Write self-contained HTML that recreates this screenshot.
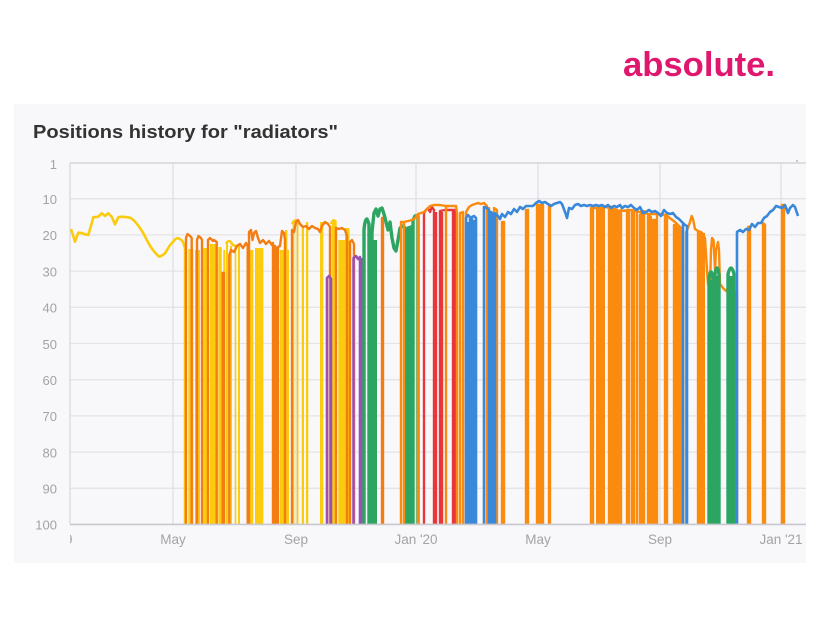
<!DOCTYPE html>
<html><head><meta charset="utf-8"><style>
html,body{margin:0;padding:0;background:#fff;}
svg{display:block;}
</style></head><body>
<svg width="821" height="627" viewBox="0 0 821 627" xmlns="http://www.w3.org/2000/svg">
<defs>
<clipPath id="plot"><rect x="70" y="150" width="736" height="375"/></clipPath>
<clipPath id="lbl"><rect x="70" y="520" width="736" height="40"/></clipPath>
</defs>
<rect x="0" y="0" width="821" height="627" fill="#ffffff"/>
<text x="623" y="76" font-family="Liberation Sans, sans-serif" font-weight="bold" font-size="34" fill="#E0176F" textLength="152" lengthAdjust="spacingAndGlyphs">absolute.</text>
<rect x="14" y="104" width="792" height="459" fill="#F8F8FA"/>
<text x="33" y="138" font-family="Liberation Sans, sans-serif" font-weight="bold" font-size="18.5" fill="#333" textLength="305" lengthAdjust="spacingAndGlyphs">Positions history for "radiators"</text>

<!-- grid -->
<g stroke="#E4E4E8" stroke-width="1.3">
<line x1="70" y1="198.7" x2="806" y2="198.7"/>
<line x1="70" y1="234.9" x2="806" y2="234.9"/>
<line x1="70" y1="271.1" x2="806" y2="271.1"/>
<line x1="70" y1="307.3" x2="806" y2="307.3"/>
<line x1="70" y1="343.5" x2="806" y2="343.5"/>
<line x1="70" y1="379.7" x2="806" y2="379.7"/>
<line x1="70" y1="415.9" x2="806" y2="415.9"/>
<line x1="70" y1="452.1" x2="806" y2="452.1"/>
<line x1="70" y1="488.3" x2="806" y2="488.3"/>
</g>
<g stroke="#DEDEE2" stroke-width="1.2">
<line x1="173" y1="163" x2="173" y2="524"/>
<line x1="296" y1="163" x2="296" y2="524"/>
<line x1="416" y1="163" x2="416" y2="524"/>
<line x1="538" y1="163" x2="538" y2="524"/>
<line x1="660" y1="163" x2="660" y2="524"/>
<line x1="781" y1="163" x2="781" y2="524"/>
</g>
<line x1="70" y1="163" x2="806" y2="163" stroke="#CFCFD4" stroke-width="1.3"/>
<line x1="70" y1="163" x2="70" y2="524" stroke="#D6D6DA" stroke-width="1.2"/>
<line x1="796" y1="161" x2="798" y2="161" stroke="#999" stroke-width="1"/>

<!-- y labels -->
<g font-family="Liberation Sans, sans-serif" font-size="13" fill="#A3A3A6" text-anchor="end">
<text x="57" y="169">1</text>
<text x="57" y="204">10</text>
<text x="57" y="240">20</text>
<text x="57" y="276.5">30</text>
<text x="57" y="312.5">40</text>
<text x="57" y="349">50</text>
<text x="57" y="385">60</text>
<text x="57" y="421">70</text>
<text x="57" y="457.5">80</text>
<text x="57" y="493.5">90</text>
<text x="57" y="529.5">100</text>
</g>
<!-- x labels -->
<g font-family="Liberation Sans, sans-serif" font-size="13.5" fill="#A3A3A6" text-anchor="middle">
<text x="51" y="544" clip-path="url(#lbl)">Jan '19</text>
<text x="173" y="544">May</text>
<text x="296" y="544">Sep</text>
<text x="416" y="544">Jan '20</text>
<text x="538" y="544">May</text>
<text x="660" y="544">Sep</text>
<text x="781" y="544">Jan '21</text>
</g>

<g clip-path="url(#plot)" fill="none" stroke-linejoin="round" stroke-linecap="butt">
<!-- yellow -->
<path stroke="#FBCB10" stroke-width="2.6" d="M71,229 L72,232 L75,241.7 L78.3,232.7 L81.7,233 L85,234.3 L88.3,235 L91.7,223.3 L93.3,217.3 L98.3,216.7 L101.7,213.3 L105,216 L108.3,213.3 L111.7,216.7 L115,224.3 L118.3,217.3 L121.7,216.7 L128.3,217.3 C133,218 139,226 143.3,233.3 C147,240 151,250 159.3,256.7 C162,256 164,254 165,253.3 C168,248 171,243 173.3,241.7 C175,239 177,238 178.3,238.3 C180,239 182,240 183,242 L185,248 L185,524"/>
<g fill="#FBCB10" stroke="none">
<rect x="184.3" y="248" width="2.4" height="276"/>
<rect x="188.3" y="249" width="5" height="275"/>
<rect x="195" y="250" width="5" height="274"/>
<rect x="203.3" y="248" width="5" height="276"/>
<rect x="210" y="244" width="6" height="280"/>
<rect x="218.3" y="247" width="3.4" height="277"/>
<rect x="223.3" y="250" width="2" height="274"/>
<rect x="226" y="242" width="2" height="282"/>
<rect x="230" y="246" width="2" height="278"/>
<rect x="234.7" y="245" width="1.6" height="279"/>
<rect x="238" y="244" width="2" height="280"/>
<rect x="250" y="250" width="3.3" height="274"/>
<rect x="255" y="248" width="8.3" height="276"/>
<rect x="280" y="250" width="9" height="274"/>
<rect x="285" y="230" width="2.4" height="294"/>
<rect x="292.7" y="222" width="1.6" height="302"/>
<rect x="296.7" y="221" width="1.8" height="303"/>
<rect x="301.7" y="226" width="2.3" height="298"/>
<rect x="306" y="222" width="2.3" height="302"/>
<rect x="320" y="222" width="3.3" height="302"/>
<rect x="331.7" y="221" width="5" height="303"/>
<rect x="338.3" y="240" width="11" height="284"/>
<rect x="345" y="228" width="4.5" height="296"/>
</g>
<path stroke="#FBCB10" stroke-width="2.6" d="M226,244 Q229,238 232,244 Q236,248 240,244 M292,224 Q295,218 298,222 L300,224 M331,224 Q333,218 336,222"/>
<!-- dark orange -->
<path stroke="#F47D13" stroke-width="2.4" d="M186,524 V238 L187.5,234 L190,236 L191.7,238 V524 M197,524 V240 L198.5,236 L201,238 L202,240 V524 M208,524 V240 L210,238 L213,241 L214,240 L216.7,242 V524 M222.7,524 V273 L224,273 V524 M229.3,524 V255 L231,250 L234,252 L237,246 L240,244 L243,248 L246,243 L247.7,246 V524 M249,524 V232 L251,230 L252.5,240 L254,233 L256,231 L258,238 L260,243 L263,240 L266,244 L269,241 L272,245 L273,243 V524 M275,524 V246 L276.7,250 V524 M278,524 V247 L280,246 L282,231 L284,233 L285,240 V524 M292,524 V230 L294,232 L296,222 L298,220 L300,224 L303,227 L306,226 L309,229 L312,226 L315,228 L318,229 L320,232 L322,226 L325,222 L328,224 L330,227 V524 M336,524 V228 L339,229 L342,228 L345,230 L347,236 V524 M350,524 V242 L352,240 L354,244 V524 M382,524 V218 L383,218 V524"/>
<rect x="272.7" y="250" width="4" height="274" fill="#F47D13"/>
<!-- purple -->
<path stroke="#9B50B2" stroke-width="2.6" d="M327,524 V278 L329,276 L331,279 V524 M353.5,524 V258 L356,256 L358,259 L360,257 V524 M362,524 V258"/>
<!-- green -->
<path stroke="#2CA562" stroke-width="3.4" d="M364,524 V230 Q365,219 367,219 L369,224 V524 M372,524 V232 L374,213 L376,209 L378,216 L380,209 L382,208 L384,214 L386,222 L388,230 L390,222 L392,238 L394,248 L396,251 L398,240 L400,228 L403,226 L405,228 V524 M408,524 V228 L411,227 V524 M413,524 V220 L415,216 L418,216 V524"/>
<rect x="372" y="240" width="5" height="284" fill="#2CA562"/>
<rect x="407" y="235" width="6" height="289" fill="#2CA562"/>
<!-- red -->
<path stroke="#E8373C" stroke-width="2.4" d="M424,524 V213 L426,210 L428,208 L430,212 L432,207 L434,210 V524 M436,524 V212 M440,524 V211 L445,210 L450,210 L455,210 V524 M442,524 V212 M453,524 V211"/>
<!-- light orange -->
<path stroke="#FB8B0E" stroke-width="2.4" d="M401,524 V222 L404,222 V524 M404,222 L408,221 L412,220 L415,218 L418,214 V524 M418,214 L421,213 L424,212 L427,209 L430,206 L434,205 L440,205 L446,206 V524 M446,206 L450,206 L456,206 L457,213 V524 M460,524 V213 L463,212 V524 M466,524 V212 L469,207 L472,205 L475,204 L478,203 L481,204 L484,203 L487,206 V524 M489,524 V207 M494,524 V208 L497,210 V524 M502,524 V222 L504,222 V524 M526,524 V210 L528,210 V524 M537,524 V205 L539,205 V524 M541,524 V205 L543,205 V524 M549,524 V205 L550,205 V524 M591,524 V208 L593,208 V524 M609,524 V206 L611,207 V524 M613,524 V208 M615,524 V209 L617,210 V524 M619,524 V212 L621,210 V524 M627,524 V210 L629,210 V524 M632,524 V210 L634,212 V524 M637,524 V210 M640,524 V215 L642,212 V524 M644,524 V210 M648,524 V216 L650,216 V524 M653,524 V220 L655,220 V524 M657,524 V212 M665,524 V215 L667,215 V524 M674,524 V225 L676,225 V524 M678,524 V228 L680,230 V524 M682,524 V230 M591,208 L600,208 L606,207 L612,209 L620,211 L630,210 L640,212 L648,214 L657,214 L666,215 L675,222 L682,229 M686,524 V232 L688,228 L690,222 L691.7,216 L693,219 L695,229 L698,231 V524 M698,231 L701,232 V524 M701,232 L703,234 V524 M703,234 L705,238 L707,270 L708,284 L710,286 L711,250 L712,238 L713.5,240 L715,270 L716,250 L718,242 L719,250 L720,284 L723,288 L726,291 L729,287 L731,286 L733,292 L736,292 V524 M737,524 V292 M748,524 V227 L750,227 V524 M763,524 V223 L765,225 V524 M782,524 V205 L784,205 V524"/>
<g fill="#FB8B0E" stroke="none">
<rect x="596" y="208" width="9" height="316"/>
<rect x="609.5" y="210" width="10.5" height="314"/>
<rect x="647" y="216" width="5" height="308"/>
<rect x="654" y="220" width="4" height="304"/>
<rect x="698" y="233" width="7" height="291"/>
</g>
<!-- blue -->
<path stroke="#3A88D9" stroke-width="2.6" d="M466,524 V218 L468,215 L470,217 V524 M472,524 V217 L474,216 L476,218 V524 M484,524 V207 L487,208 L489,210 V524 M491,524 V212 L493,214 V524 M495,524 V213 L498,216 L500,219 L502,214 L505,217 L508,212 L511,214 L514,209 L517,212 L520,207 L523,209 L526,206 L530,206 L533,206 L536,203 L539,201 L542,203 L545,202 L548,204 L551,206 L554,204 L557,203 L560,202 L562,204 L565,212 L567,218 L569,208 L572,209 L575,205 L578,204 L581,206 L584,205 L587,206 L590,205 L593,206 L596,205 L599,206 L602,205 L605,207 L608,205 L611,208 L614,206 L617,207 L620,205 L622,208 L625,206 L628,207 L631,205 L634,208 L637,210 L640,207 L643,213 L646,212 L649,210 L652,212 L655,211 L658,213 L661,216 L664,210 L667,213 L670,214 L673,213 L676,217 L679,219 L682,222 L685,225 L687,226 V524 M683,524 V222 M737,524 V232 L740,230 L743,232 L746,229 L749,230 L752,224 L755,227 L758,223 L761,223 L764,218 L767,216 L770,212 L773,210 L776,206 L779,207 L782,208 L785,205 L788,213 L790,208 L793,205 L795,207 L797,213 L798,216"/>
<rect x="467" y="222" width="4" height="302" fill="#3A88D9"/>
<rect x="473" y="220" width="3" height="304" fill="#3A88D9"/>
<!-- green 2 -->
<path stroke="#2CA562" stroke-width="3.4" d="M709,524 V278 Q711,266 713,278 V524 M715,524 V274 Q717,262 719,274 V524 M728,524 V274 Q731,262 734,274 V524"/>
<g fill="#2CA562">
<rect x="709" y="280" width="4" height="244"/>
<rect x="715" y="276" width="4" height="248"/>
<rect x="728" y="276" width="6" height="248"/>
</g>
</g>
<line x1="70" y1="524.4" x2="806" y2="524.4" stroke="#C8C8CE" stroke-width="1.6"/>
</svg>
</body></html>
